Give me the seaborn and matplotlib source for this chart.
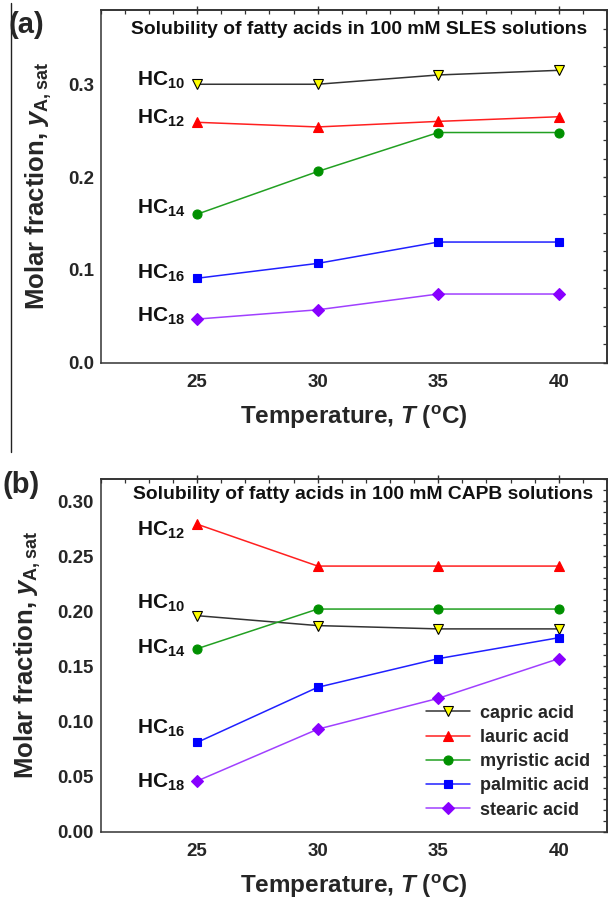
import numpy as np
import pandas as pd
import matplotlib
matplotlib.use("Agg")
import matplotlib.pyplot as plt
import seaborn as sns
from matplotlib.ticker import MultipleLocator, FormatStrFormatter
from matplotlib.lines import Line2D

# ---- data -------------------------------------------------------------
temperature = [25, 30, 35, 40]
acids = ["capric acid", "lauric acid", "myristic acid", "palmitic acid", "stearic acid"]
chain_labels = ["10", "12", "14", "16", "18"]

# solubility in 100 mM SLES
sles_capric = [0.300, 0.300, 0.310, 0.315]
sles_lauric = [0.259, 0.254, 0.260, 0.265]
sles_myristic = [0.160, 0.206, 0.248, 0.248]
sles_palmitic = [0.091, 0.107, 0.130, 0.130]
sles_stearic = [0.047, 0.057, 0.074, 0.074]

# solubility in 100 mM CAPB
capb_capric = [0.196, 0.187, 0.184, 0.184]
capb_lauric = [0.279, 0.241, 0.241, 0.241]
capb_myristic = [0.166, 0.202, 0.202, 0.202]
capb_palmitic = [0.081, 0.131, 0.157, 0.176]
capb_stearic = [0.046, 0.093, 0.121, 0.157]

# vertical position of the HC_n labels (order HC10 ... HC18)
sles_label_y = [0.304, 0.263, 0.166, 0.096, 0.050]
capb_label_y = [0.207, 0.273, 0.166, 0.094, 0.045]

# ---- style ------------------------------------------------------------
sns.set_theme(style="white")
plt.rcParams["font.family"] = ["Liberation Sans", "DejaVu Sans"]
plt.rcParams["mathtext.fontset"] = "custom"
plt.rcParams["mathtext.it"] = "Liberation Sans:italic:bold"
plt.rcParams["mathtext.rm"] = "Liberation Sans:bold"
plt.rcParams["mathtext.bf"] = "Liberation Sans:bold"

line_colors = ["#333333", "#FF2020", "#22A022", "#2020FF", "#A040FF"]
marker_faces = ["#FFFF00", "#FF0000", "#009000", "#0000FF", "#8800FF"]
marker_edges = ["#000000", "#FF0000", "#009000", "#0000FF", "#8800FF"]
markers = ["v", "^", "o", "s", "D"]
marker_sizes = [6.5, 7, 6.5, 6, 6]

spine_color = "#333333"
tick_size = 13.5

fig = plt.figure(figsize=(6.08, 9.05), dpi=100)
W, H = 608.0, 905.0


def make_axes(top_px, bottom_px):
    left, right = 100.7, 607.0
    return fig.add_axes([left / W, 1 - bottom_px / H, (right - left) / W, (bottom_px - top_px) / H])


def style_axes(ax, ymax, ymajor, yminor, yfmt):
    ax.set_xlim(21, 42)
    ax.set_ylim(0, ymax)
    ax.xaxis.set_major_locator(MultipleLocator(5))
    ax.xaxis.set_minor_locator(MultipleLocator(1))
    ax.yaxis.set_major_locator(MultipleLocator(ymajor))
    ax.yaxis.set_minor_locator(MultipleLocator(yminor))
    ax.yaxis.set_major_formatter(FormatStrFormatter(yfmt))
    for s in ax.spines.values():
        s.set_color(spine_color)
        s.set_linewidth(1.1)
    ax.tick_params(which="major", direction="inout", length=6, width=1.0,
                   color=spine_color, labelsize=tick_size, pad=2)
    ax.tick_params(which="minor", direction="out", length=3, width=0.9,
                   color=spine_color)
    ax.tick_params(axis="x", which="major", pad=5)
    for lab in ax.get_xticklabels() + ax.get_yticklabels():
        lab.set_fontweight("bold")
    # mirrored ticks on top and right, pointing into the plot
    top = ax.secondary_xaxis("top")
    top.xaxis.set_major_locator(MultipleLocator(5))
    top.xaxis.set_minor_locator(MultipleLocator(1))
    top.tick_params(which="major", direction="inout", length=6, width=1.0,
                    color=spine_color, labeltop=False)
    top.tick_params(which="minor", direction="in", length=3, width=0.9,
                    color=spine_color)
    top.spines["top"].set_color(spine_color)
    right = ax.secondary_yaxis("right")
    right.yaxis.set_major_locator(MultipleLocator(ymajor))
    right.yaxis.set_minor_locator(MultipleLocator(yminor))
    right.tick_params(which="major", direction="inout", length=6, width=1.0,
                      color=spine_color, labelright=False)
    right.tick_params(which="minor", direction="in", length=3, width=0.9,
                      color=spine_color)
    right.spines["right"].set_color(spine_color)
    ax.set_xlabel(r"Temperature, $\mathit{T}$ ($\mathregular{^o}$C)",
                  fontsize=17.5, fontweight="bold", labelpad=9)
    ax.set_ylabel(r"Molar fraction, $\mathit{y}_\mathregular{A,sat}$",
                  fontsize=18.5, fontweight="bold", labelpad=10)


def draw_series(ax, series, label_y, legend):
    for i, vals in enumerate(series):
        df = pd.DataFrame({"T": temperature, "y": vals})
        sns.lineplot(data=df, x="T", y="y", ax=ax, color=line_colors[i],
                     linewidth=1.1, marker=markers[i], markersize=marker_sizes[i],
                     markerfacecolor=marker_faces[i], markeredgecolor=marker_edges[i],
                     markeredgewidth=0.8, label=acids[i] if legend else None,
                     legend=legend, zorder=3)
    for lab, yv in zip(chain_labels, label_y):
        ax.text(22.5, yv, r"HC$\mathregular{_{%s}}$" % lab, fontsize=15,
                fontweight="semibold", ha="left", va="center", color="#111111")


# ---- panel (a): SLES --------------------------------------------------
ax_a = make_axes(10.0, 362.7)
draw_series(ax_a, [sles_capric, sles_lauric, sles_myristic, sles_palmitic, sles_stearic],
            sles_label_y, legend=False)
style_axes(ax_a, 0.38, 0.1, 0.02, "%.1f")
ax_a.text(0.51, 0.945, "Solubility of fatty acids in 100 mM SLES solutions",
          transform=ax_a.transAxes, ha="center", va="center",
          fontsize=13.9, fontweight="bold", color="#111111")

# ---- panel (b): CAPB --------------------------------------------------
ax_b = make_axes(479.0, 831.7)
draw_series(ax_b, [capb_capric, capb_lauric, capb_myristic, capb_palmitic, capb_stearic],
            capb_label_y, legend=True)
style_axes(ax_b, 0.32, 0.05, 0.01, "%.2f")
ax_b.text(0.518, 0.955, "Solubility of fatty acids in 100 mM CAPB solutions",
          transform=ax_b.transAxes, ha="center", va="center",
          fontsize=13.9, fontweight="bold", color="#111111")
leg = ax_b.legend(loc="upper left", bbox_to_anchor=(0.643, 0.36), frameon=False,
                  prop={"weight": "bold", "size": 13}, handlelength=2.4,
                  handletextpad=0.55, labelspacing=0.4, borderpad=0, borderaxespad=0)

# panel letters
fig.text(8 / W, 1 - 25 / H, "(a)", fontsize=21, fontweight="bold", va="center", ha="left")
fig.text(3 / W, 1 - 485 / H, "(b)", fontsize=21, fontweight="bold", va="center", ha="left")

# left border rule beside panel (a)
fig.add_artist(Line2D([10.7 / W, 10.7 / W], [1 - 3 / H, 1 - 451.7 / H],
                      color="#222222", linewidth=1.0))

fig.savefig("out.png", dpi=100)
